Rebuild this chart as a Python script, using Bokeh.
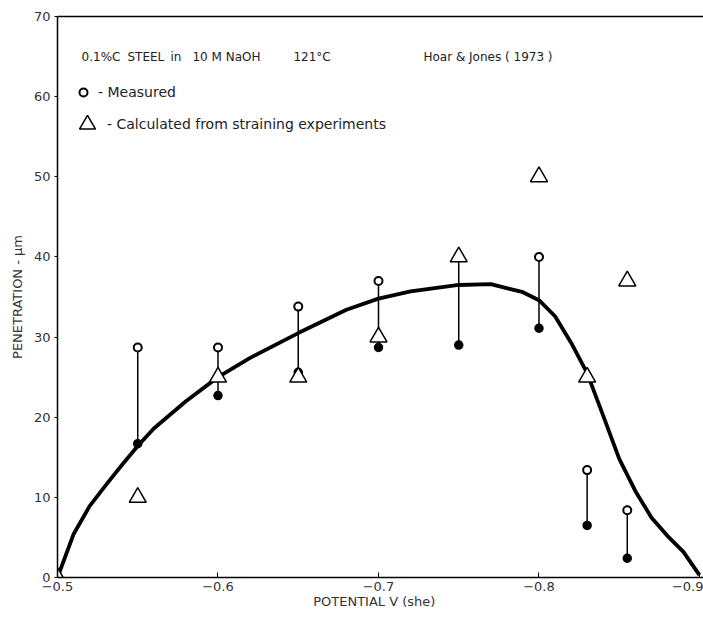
from bokeh.plotting import figure
from bokeh.models import (Range1d, FixedTicker, LinearAxis, Label, Legend,
                          LegendItem)
from bokeh.embed import file_html
from bokeh.resources import INLINE

# ---- data ----
potential_measured = [-0.55, -0.60, -0.65, -0.70, -0.75, -0.80, -0.83, -0.855]
measured_upper = [28.7, 28.7, 33.8, 37.0, 40.0, 40.0, 13.4, 8.4]
measured_lower = [16.7, 22.7, 25.6, 28.7, 29.0, 31.1, 6.5, 2.4]

potential_calc = [-0.50, -0.55, -0.60, -0.65, -0.70, -0.75, -0.80, -0.83, -0.855]
calc_penetration = [0, 10, 25, 25, 30, 40, 50, 25, 37]

curve_potential = [-0.50, -0.51, -0.52, -0.53, -0.54, -0.55, -0.56, -0.58, -0.60,
                   -0.62, -0.65, -0.68, -0.70, -0.72, -0.75, -0.77, -0.79, -0.80,
                   -0.81, -0.82, -0.83, -0.84, -0.85, -0.86, -0.87, -0.88, -0.89, -0.90]
curve_penetration = [0, 5.4, 8.9, 11.5, 14.0, 16.4, 18.6, 22.0, 25.0,
                     27.4, 30.5, 33.4, 34.8, 35.7, 36.5, 36.6, 35.6, 34.6,
                     32.6, 29.3, 25.5, 20.2, 14.8, 10.8, 7.5, 5.2, 3.2, 0.3]

x_ticks = [-0.5, -0.6, -0.7, -0.8, -0.9]
y_ticks = [0, 10, 20, 30, 40, 50, 60, 70]

title_parts = ["0.1%C", "STEEL", "in", "10 M NaOH", "121°C", "Hoar & Jones ( 1973 )"]
title_x = [-0.515, -0.5436, -0.5704, -0.5841, -0.647, -0.728]
title_y = 64.9

FONT = "DejaVu Sans"

p = figure(width=703, height=627, output_backend="svg", toolbar_location=None,
           x_range=Range1d(-0.5, -0.9025), y_range=Range1d(0, 70),
           min_border_left=57, min_border_right=0, min_border_top=16,
           min_border_bottom=50, background_fill_color="white",
           border_fill_color="white", outline_line_color=None)
p.xgrid.visible = False
p.ygrid.visible = False

# axes
p.xaxis.ticker = FixedTicker(ticks=x_ticks)
p.yaxis.ticker = FixedTicker(ticks=y_ticks)
for ax in (p.xaxis[0], p.yaxis[0]):
    ax.axis_line_color = "black"
    ax.axis_line_width = 1.5
    ax.major_tick_line_color = "black"
    ax.minor_tick_line_color = None
    ax.major_label_text_font = FONT
    ax.major_label_text_font_size = "13px"
    ax.major_label_text_color = "#333333"
    ax.axis_label_text_font = FONT
    ax.axis_label_text_font_size = "13px"
    ax.axis_label_text_font_style = "normal"
    ax.axis_label_text_color = "#333333"
p.xaxis.major_tick_in = 5
p.xaxis.major_tick_out = 0
p.yaxis.major_tick_in = 0
p.yaxis.major_tick_out = 3
p.xaxis.axis_label = "POTENTIAL    V (she)"
p.yaxis.axis_label = "PENETRATION - µm"
p.xaxis.axis_label_standoff = 0
p.xaxis.major_label_standoff = 4
p.yaxis.major_label_standoff = 4
p.yaxis.axis_label_standoff = 6

top_axis = LinearAxis(ticker=FixedTicker(ticks=[]), axis_line_color="black",
                      axis_line_width=1.5, major_tick_line_color=None,
                      minor_tick_line_color=None, major_label_text_font_size="0px")
p.add_layout(top_axis, "above")

# curve
p.line(curve_potential, curve_penetration, line_color="black", line_width=3.8)

# measured ranges
p.segment(x0=potential_measured, y0=measured_lower, x1=potential_measured,
          y1=measured_upper, line_color="black", line_width=1.5)
r_lower = p.scatter(potential_measured, measured_lower, marker="circle", size=8,
                    fill_color="black", line_color="black", line_width=1.5)
r_open = p.scatter(potential_measured, measured_upper, marker="circle", size=8,
                   fill_color="white", line_color="black", line_width=2)

# calculated
r_calc = p.scatter(potential_calc, calc_penetration, marker="triangle", size=17,
                   fill_color="white", line_color="black", line_width=1.5)

# title texts
for txt, xx in zip(title_parts, title_x):
    p.add_layout(Label(x=xx, y=title_y, text=txt, text_font=FONT,
                       text_font_size="12px", text_color="#222222",
                       text_baseline="alphabetic"))

# legends
leg1 = Legend(items=[LegendItem(label="- Measured", renderers=[r_open])],
              location=(16, 475), glyph_width=20, glyph_height=20,
              label_height=20, padding=0, margin=0, label_standoff=5,
              border_line_color=None, background_fill_alpha=0,
              label_text_font=FONT, label_text_font_size="14px",
              label_text_color="#222222")
leg2 = Legend(items=[LegendItem(label="- Calculated from straining experiments",
                                renderers=[r_calc])],
              location=(10, 433), glyph_width=40, glyph_height=40,
              label_height=40, padding=0, margin=0, label_standoff=-8,
              border_line_color=None, background_fill_alpha=0,
              label_text_font=FONT, label_text_font_size="14px",
              label_text_color="#222222")
p.add_layout(leg1)
p.add_layout(leg2)

open("out.html", "w").write(file_html(p, INLINE))
